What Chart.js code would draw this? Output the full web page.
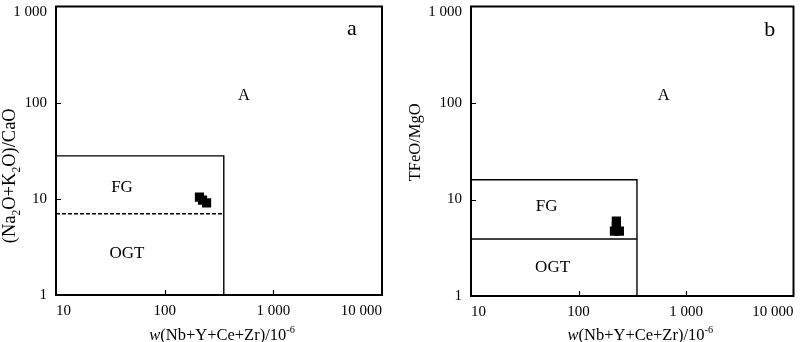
<!DOCTYPE html>
<html>
<head>
<meta charset="utf-8">
<script src="https://cdn.jsdelivr.net/npm/chart.js@4/dist/chart.umd.min.js"></script>
<style>
  html, body { margin:0; padding:0; background:#fff; }
  #wrap { position:relative; width:800px; height:342px; }
  .pane { position:absolute; top:0; width:400px; height:342px; }
</style>
</head>
<body>
<div id="wrap">
  <div class="pane" style="left:0"><canvas id="ca" width="400" height="342"></canvas></div>
  <div class="pane" style="left:400px"><canvas id="cb" width="400" height="342"></canvas></div>
</div>
<script>
// ---- tick values and labels ----
const xTicks = [10, 100, 1000, 10000];
const xTickLabels = ['10', '100', '1 000', '10 000'];
const yTicks = [1, 10, 100, 1000];
const yTickLabels = ['1', '10', '100', '1 000'];

// ---- discrimination boundaries ----
const boundaryX = 350;
const aFGTop = 28;     // panel a upper limit of FG / OGT field
const aOGTTop = 7;     // panel a dashed FG/OGT divide
const bFGTop = 16;     // panel b upper limit of FG / OGT field
const bOGTTop = 3.9;   // panel b FG/OGT divide

// ---- samples ----
const aSampleX = [209, 223, 243];
const aSampleY = [10.4, 9.7, 9.06];
const bSampleX = [225, 216, 240, 225];
const bSampleY = [5.96, 4.7, 4.7, 5.3];

const SERIF = '"Liberation Serif", "Times New Roman", serif';

function drawRich(ctx, segs, size) {
  let w = 0;
  const parts = segs.map(s => {
    const fs = (s.sub || s.sup) ? size * 0.62 : size;
    ctx.font = (s.it ? 'italic ' : '') + fs + 'px ' + SERIF;
    const mw = ctx.measureText(s.t).width;
    w += mw;
    return { s, fs, mw };
  });
  let x = -w / 2;
  ctx.textBaseline = 'alphabetic';
  ctx.textAlign = 'left';
  const base = size * 0.35;
  parts.forEach(p => {
    ctx.font = (p.s.it ? 'italic ' : '') + p.fs + 'px ' + SERIF;
    let dy = 0;
    if (p.s.sub) dy = size * 0.22;
    if (p.s.sup) dy = -size * 0.42;
    ctx.fillText(p.s.t, x, base + dy);
    x += p.mw;
  });
}

const framePlugin = {
  id: 'frame',
  afterDraw(chart) {
    const ctx = chart.ctx, a = chart.chartArea;
    const xs = chart.scales.x, ys = chart.scales.y;
    ctx.save();
    ctx.strokeStyle = '#000';
    ctx.lineWidth = 1.2;
    ctx.beginPath();
    xTicks.slice(1, -1).forEach(v => {
      const px = Math.round(xs.getPixelForValue(v)) + 0.5;
      ctx.moveTo(px, a.bottom); ctx.lineTo(px, a.bottom - 5);
    });
    yTicks.slice(1, -1).forEach(v => {
      const py = Math.round(ys.getPixelForValue(v)) + 0.5;
      ctx.moveTo(a.left, py); ctx.lineTo(a.left + 5, py);
    });
    ctx.stroke();
    ctx.lineWidth = 2;
    ctx.strokeRect(a.left, a.top, a.right - a.left, a.bottom - a.top);
    const o = chart.options.plugins.frame;
    ctx.fillStyle = '#000';
    o.notes.forEach(n => {
      ctx.font = n.size + 'px ' + SERIF;
      ctx.textAlign = 'center';
      ctx.textBaseline = 'middle';
      ctx.fillText(n.t, xs.getPixelForValue(n.x), ys.getPixelForValue(n.y));
    });
    ctx.save();
    ctx.translate((a.left + a.right) / 2 + o.xTitleShift, chart.height - 8);
    drawRich(ctx, o.xTitle, 16.5);
    ctx.restore();
    ctx.save();
    ctx.translate(o.yTitleX, (a.top + a.bottom) / 2 + o.yTitleShift);
    ctx.rotate(-Math.PI / 2);
    drawRich(ctx, o.yTitle, o.yTitleSize);
    ctx.restore();
    ctx.restore();
  }
};

function makeChart(id, cfg) {
  return new Chart(document.getElementById(id), {
    type: 'scatter',
    data: {
      datasets: [
        {
          data: [{ x: xTicks[0], y: cfg.fgTop }, { x: boundaryX, y: cfg.fgTop }, { x: boundaryX, y: yTicks[0] }],
          showLine: true, borderColor: '#000', borderWidth: 1.4, pointRadius: 0, fill: false
        },
        {
          data: [{ x: xTicks[0], y: cfg.ogtTop }, { x: boundaryX, y: cfg.ogtTop }],
          showLine: true, borderColor: '#000', borderWidth: 1.4, pointRadius: 0, fill: false,
          borderDash: cfg.dashed ? [4, 2] : []
        },
        {
          data: cfg.sx.map((x, i) => ({ x, y: cfg.sy[i] })),
          pointStyle: 'rect', pointRadius: 6.5, backgroundColor: '#000', borderWidth: 0, showLine: false
        }
      ]
    },
    options: {
      responsive: false, animation: false, devicePixelRatio: 1,
      layout: { padding: { top: 2, right: cfg.padRight, left: 0, bottom: 0 } },
      plugins: {
        legend: { display: false }, tooltip: { enabled: false },
        frame: { notes: cfg.notes, xTitle: cfg.xTitle, yTitle: cfg.yTitle, yTitleX: cfg.yTitleX, yTitleShift: cfg.yTitleShift, xTitleShift: cfg.xTitleShift, yTitleSize: cfg.yTitleSize }
      },
      scales: {
        x: {
          type: 'logarithmic', min: xTicks[0], max: xTicks[xTicks.length - 1],
          afterBuildTicks: s => { s.ticks = xTicks.map(v => ({ value: v })); },
          afterFit: s => { s.height = cfg.xAxisH; s.paddingLeft = 0; s.paddingRight = 0; },
          grid: { display: false, drawTicks: false }, border: { display: false },
          ticks: {
            align: 'inner', maxRotation: 0, minRotation: 0, autoSkip: false, padding: 7, color: '#000',
            font: { family: SERIF, size: 15 },
            callback: v => { const i = xTicks.indexOf(v); return i >= 0 ? xTickLabels[i] : ''; }
          }
        },
        y: {
          type: 'logarithmic', min: yTicks[0], max: yTicks[yTicks.length - 1],
          afterBuildTicks: s => { s.ticks = yTicks.map(v => ({ value: v })); },
          afterFit: s => { s.width = cfg.yAxisW; s.paddingTop = 0; s.paddingBottom = 0; },
          grid: { display: false, drawTicks: false }, border: { display: false },
          ticks: {
            autoSkip: false, padding: 9, color: '#000',
            font: c => ({ family: SERIF, size: 15, lineHeight: (c.index === yTicks.length - 1) ? 0.68 : 1.2 }),
            callback: v => {
              const i = yTicks.indexOf(v);
              if (i < 0) return '';
              return i === yTicks.length - 1 ? ['', yTickLabels[i]] : yTickLabels[i];
            }
          }
        }
      }
    },
    plugins: [framePlugin]
  });
}

const xTitle = [{ t: 'w', it: true }, { t: '(Nb+Y+Ce+Zr)/10' }, { t: '-6', sup: true }];

makeChart('ca', {
  fgTop: aFGTop, ogtTop: aOGTTop, dashed: true, sx: aSampleX, sy: aSampleY,
  padRight: 18, xAxisH: 47, yAxisW: 56, yTitleX: 9, yTitleShift: 25, xTitleShift: 3, yTitleSize: 18.5,
  xTitle,
  yTitle: [{ t: '(Na' }, { t: '2', sub: true }, { t: 'O+K' }, { t: '2', sub: true }, { t: 'O)/CaO' }],
  notes: [
    { t: 'a', x: 5280, y: 580, size: 22 },
    { t: 'A', x: 537, y: 117, size: 16.5 },
    { t: 'FG', x: 40.5, y: 13.1, size: 17 },
    { t: 'OGT', x: 45, y: 2.69, size: 17 }
  ]
});

makeChart('cb', {
  fgTop: bFGTop, ogtTop: bOGTTop, dashed: false, sx: bSampleX, sy: bSampleY,
  padRight: 1, xAxisH: 46, yAxisW: 71, yTitleX: 14, yTitleShift: -9, xTitleShift: 8, yTitleSize: 16.5,
  xTitle,
  yTitle: [{ t: 'TFeO/MgO' }],
  notes: [
    { t: 'b', x: 6010, y: 569, size: 22 },
    { t: 'A', x: 619, y: 118, size: 16.5 },
    { t: 'FG', x: 50.6, y: 8.48, size: 17 },
    { t: 'OGT', x: 57.4, y: 1.98, size: 17 }
  ]
});
</script>
</body>
</html>
